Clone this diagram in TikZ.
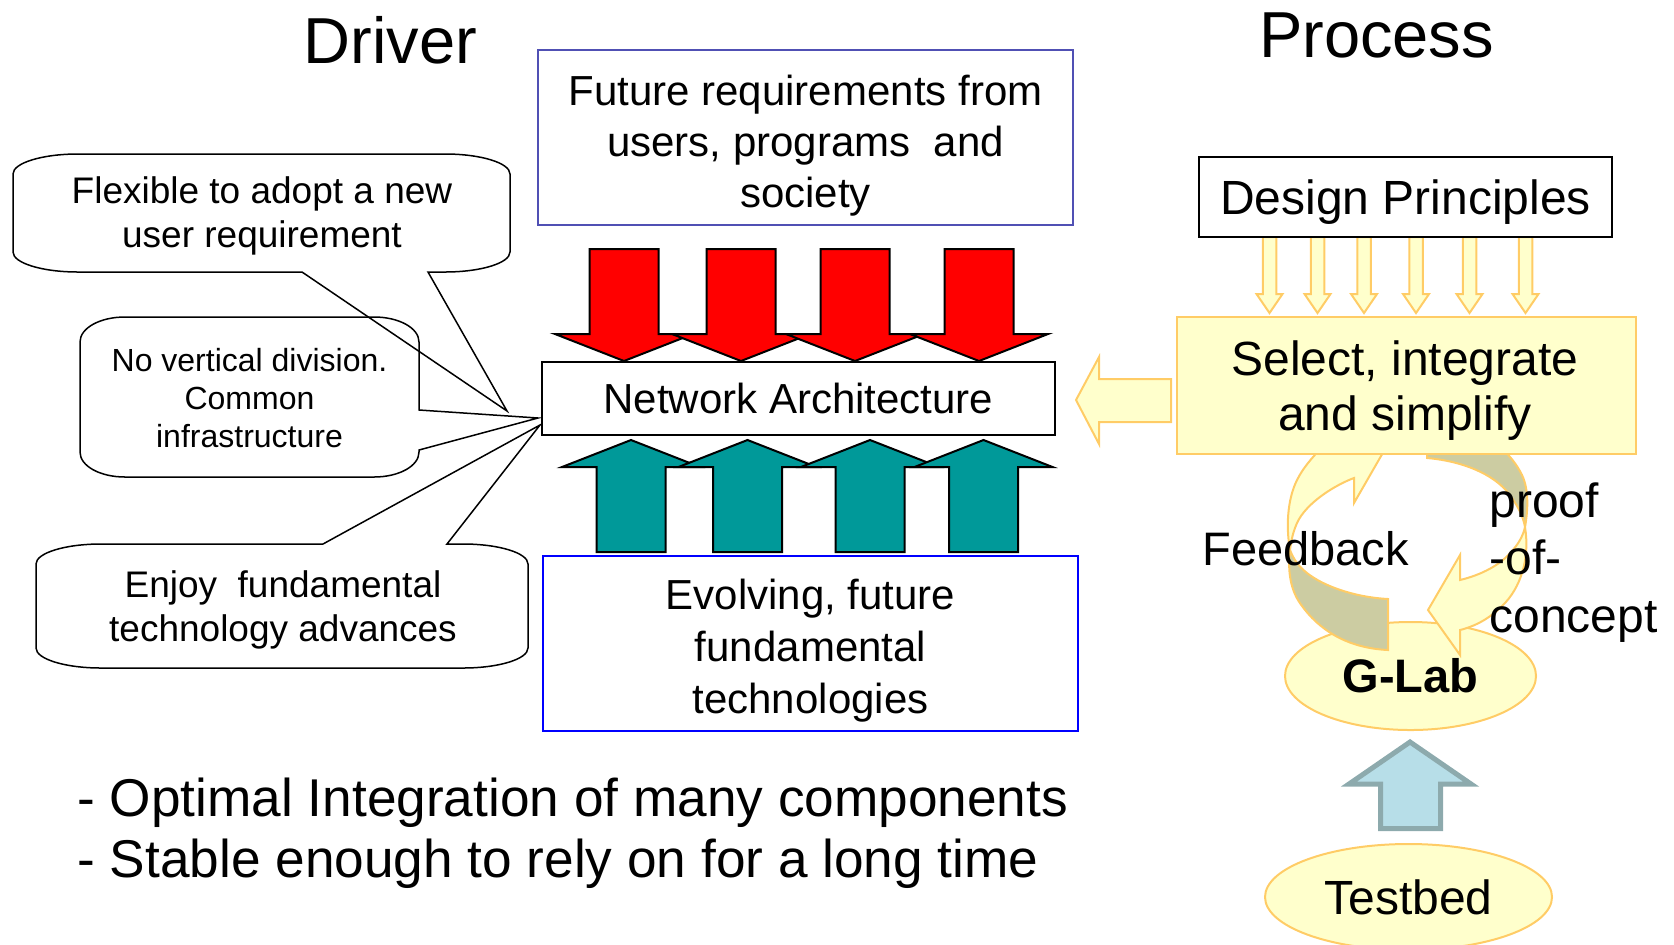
\documentclass[tikz,border=0pt]{standalone}
\usepackage{fontspec}
\setmainfont{Liberation Sans}
\usetikzlibrary{shapes.geometric}

\definecolor{reqblue}{RGB}{80,80,180}
\definecolor{techblue}{RGB}{0,0,255}
\definecolor{arrowred}{RGB}{255,0,0}
\definecolor{arrowteal}{RGB}{0,153,153}
\definecolor{paleyellow}{RGB}{255,255,204}
\definecolor{paleorange}{RGB}{255,204,102}
\definecolor{loopolive}{RGB}{204,204,162}
\definecolor{testblue}{RGB}{183,222,232}
\definecolor{testedge}{RGB}{141,170,173}

\tikzset{
  title/.style={font=\fontsize{32.5}{38}\selectfont, inner sep=0pt},
  boxtext/.style={font=\fontsize{21}{25.5}\selectfont, align=center, inner sep=0pt},
  bubble/.style={draw=black, line width=0.75pt},
  bubbletext/.style={font=\fontsize{18.5}{22}\selectfont, align=center, inner sep=0pt},
  downarrow/.style={fill=arrowred, draw=black, line width=1pt},
  uparrow/.style={fill=arrowteal, draw=black, line width=1pt},
  palearrow/.style={fill=paleyellow, draw=paleorange, line width=1pt},
  loopback/.style={fill=loopolive, draw=paleorange, line width=1pt},
  palebox/.style={fill=paleyellow, draw=paleorange, line width=1pt, inner sep=0pt}
}

\begin{document}
\begin{tikzpicture}[x=0.5pt,y=-0.5pt]
  \useasboundingbox (0,0) rectangle (1674,944);

  % titles
  \node[title, anchor=base] (driver) at (390.5,63) {Driver};
  \node[title, anchor=base] (process) at (1376.5,57) {Process};

  % driver side (multi-line texts sit on their last baseline)
  \node[draw=reqblue, line width=1pt, minimum width=267.5pt, minimum height=87.5pt] (req) at (805.5,137.5) {};
  \node[boxtext, anchor=base] (reqtext) at (805.5,207) {Future requirements from\\users, programs\ \ and\\society};

  \foreach \cx in {624,741,855,979}
    \draw[downarrow] (\cx-34.5,249) -- (\cx+34.5,249) -- (\cx+34.5,334) -- (\cx+69,334)
      -- (\cx,361) -- (\cx-69,334) -- (\cx-34.5,334) -- cycle;
  \foreach \cx in {631,747.5,870,983.5}
    \draw[uparrow] (\cx-34.5,552) -- (\cx+34.5,552) -- (\cx+34.5,467) -- (\cx+69,467)
      -- (\cx,440) -- (\cx-69,467) -- (\cx-34.5,467) -- cycle;

  \node[draw, line width=1pt, minimum width=256.5pt, minimum height=36.5pt, inner sep=0pt,
    font=\fontsize{21}{25}\selectfont] (netarch) at (798.5,398.5) {Network Architecture};

  \node[draw=techblue, line width=1pt, minimum width=267.5pt, minimum height=87.5pt] (tech) at (810.5,643.5) {};
  \node[boxtext, font=\fontsize{21}{26}\selectfont, anchor=base] (techtext) at (810.5,713) {Evolving, future\\fundamental\\technologies};

  % callouts
  \draw[bubble] (78,154) -- (445,154) .. controls (481,154) and (510,163) .. (510,174)
    -- (510,252) .. controls (510,263) and (481,272) .. (445,272) -- (428,272) -- (507,411)
    -- (302,272) -- (78,272) .. controls (42,272) and (13,263) .. (13,252)
    -- (13,174) .. controls (13,163) and (42,154) .. (78,154) -- cycle;
  \node[bubbletext, anchor=base] (flexible) at (262,247) {Flexible to adopt a new\\user requirement};

  \draw[bubble] (125,317) -- (374,317) .. controls (399,317) and (419,328) .. (419,342)
    -- (419,410) -- (538,418) -- (419,450) -- (419,452) .. controls (419,466) and (399,477) .. (374,477)
    -- (125,477) .. controls (100,477) and (80,466) .. (80,452)
    -- (80,342) .. controls (80,328) and (100,317) .. (125,317) -- cycle;
  \node[bubbletext, font=\fontsize{16}{19}\selectfont, anchor=base] (division) at (249.5,447.5) {No vertical division.\\Common\\infrastructure};

  \draw[bubble] (101,544) -- (323,544) -- (540,425) -- (447,544) -- (463,544)
    .. controls (499,544) and (528,553) .. (528,564) -- (528,648) .. controls (528,659) and (499,668) .. (463,668)
    -- (101,668) .. controls (65,668) and (36,659) .. (36,648)
    -- (36,564) .. controls (36,553) and (65,544) .. (101,544) -- cycle;
  \node[bubbletext, anchor=base] (enjoy) at (283,641.5) {Enjoy\ \ fundamental\\technology advances};

  \node[anchor=base west, align=left, inner sep=0pt, font=\fontsize{26.6}{30.5}\selectfont] (goals) at (77,877)
    {- Optimal Integration of many components\\- Stable enough to rely on for a long time};

  % process side
  \foreach \cx in {1269.5,1317.5,1364,1416,1469.5,1525.5}
    \draw[palearrow] (\cx-6.75,237) -- (\cx+6.75,237) -- (\cx+6.75,294) -- (\cx+13,294)
      -- (\cx,313) -- (\cx-13,294) -- (\cx-6.75,294) -- cycle;
  \node[draw, line width=1pt, minimum width=206.5pt, minimum height=40pt, inner sep=0pt, text depth=0pt,
    font=\fontsize{24}{28}\selectfont] (design) at (1405.5,197) {Design Principles};

  \node[ellipse, palebox, minimum width=125.5pt, minimum height=54pt,
    font=\fontsize{23.5}{28}\selectfont\bfseries] (glab) at (1410.5,676) {G-Lab};

  % feedback loop
  \draw[loopback] (1290,550) .. controls (1287,575) and (1292,593) .. (1302,606)
    .. controls (1318,628) and (1345,648) .. (1388,650) -- (1388,599)
    .. controls (1352,597) and (1322,585) .. (1307,573)
    .. controls (1298,566) and (1293,558) .. (1290,550) -- cycle;
  \draw[palearrow] (1290,550) .. controls (1286,528) and (1287,500) .. (1297,480)
    .. controls (1303,468) and (1311,459) .. (1322,447) -- (1396,430) -- (1354,503) -- (1354,478)
    .. controls (1335,485) and (1306,503) .. (1297,523)
    .. controls (1293,532) and (1291,541) .. (1290,550) -- cycle;
  \draw[loopback] (1427,450) -- (1427,458) .. controls (1462,461) and (1494,474) .. (1509,494)
    .. controls (1518,506) and (1523,516) .. (1525,527)
    .. controls (1528,510) and (1529,490) .. (1522,475)
    .. controls (1516,463) and (1509,455) .. (1500,447) -- cycle;
  \draw[palearrow] (1525,527) .. controls (1530,558) and (1521,588) .. (1502,606)
    .. controls (1490,618) and (1476,626) .. (1460,630) -- (1460,655) -- (1428,610) -- (1460,555) -- (1460,580)
    .. controls (1481,575) and (1500,565) .. (1510,553)
    .. controls (1518,545) and (1523,536) .. (1525,527) -- cycle;

  \node[palebox, minimum width=229.5pt, minimum height=68.5pt] (select) at (1406.5,385.5) {};
  \node[boxtext, font=\fontsize{24}{27.5}\selectfont, anchor=base] (selecttext) at (1405,430) {Select, integrate\\and simplify};

  % into the architecture
  \draw[palearrow] (1076,400) -- (1099,357) -- (1099,379) -- (1171,379) -- (1171,422)
    -- (1099,422) -- (1099,444) -- cycle;

  \node[anchor=base west, inner sep=0pt, font=\fontsize{23.5}{28}\selectfont] (feedback) at (1202,565) {Feedback};
  \node[anchor=base west, align=left, inner sep=0pt, font=\fontsize{24}{28.75}\selectfont] (proof) at (1489,632) {proof\\-of-\\concept};

  % testbed
  \draw[fill=testblue, draw=testedge, line width=2.5pt] (1410,742) -- (1471,784) -- (1440.5,784) -- (1440.5,828.5)
    -- (1380.5,828.5) -- (1380.5,784) -- (1349,784) -- cycle;
  \node[ellipse, palebox, minimum width=143.5pt, minimum height=53pt,
    font=\fontsize{24}{28}\selectfont] (testbed) at (1408.5,897) {Testbed};
\end{tikzpicture}
\end{document}
